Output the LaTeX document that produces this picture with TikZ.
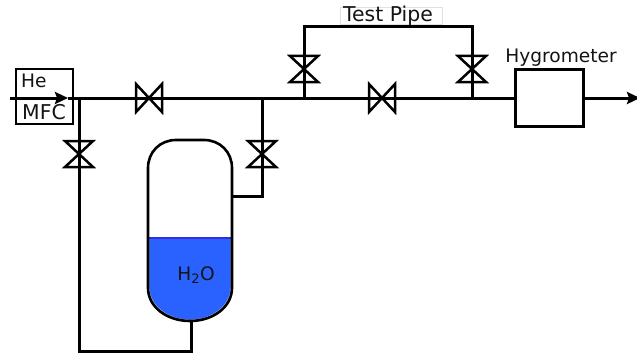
\documentclass[tikz,border=0pt]{standalone}
\usepackage{fontspec}
\setmainfont{DejaVu Sans}
\usetikzlibrary{arrows.meta}
\definecolor{water}{HTML}{2A62FF}
\definecolor{waterline}{HTML}{2F2FE0}
\tikzset{
    pipe/.style={line width=3.0pt},
    flow/.style={pipe, -{Stealth[length=13pt,width=12pt,inset=2pt]}},
    label/.style={font=\fontsize{18.6}{20}\selectfont, text=black!92, inner sep=0pt},
    biglabel/.style={label, font=\fontsize{20.4}{22}\selectfont},
    hvalve/.pic={\draw[line width=2.5pt, line join=miter] (-13,-14)--(13,14)--(13,-14)--(-13,14)--cycle;},
    vvalve/.pic={\draw[line width=2.5pt, line join=miter] (-14,-13)--(14,-13)--(-14,13)--(14,13)--cycle;},
}

\begin{document}
\begin{tikzpicture}[x=1pt,y=-1pt]
    \useasboundingbox (0,0) rectangle (637,353);
    % water first, so that the vessel wall lies over it
    \fill[water, draw=black!25, line width=0.8pt] (149,238)--(231,238)--(231,287)
        .. controls (231,306) and (212,320) .. (190,320)
        .. controls (168,320) and (149,306) .. (149,287)--cycle;
    \draw[waterline, line width=1.6pt] (149,238)--(231,238);
    % vessel
    \draw[pipe, line width=2.6pt] (176,140)--(204,140)
        .. controls (220,140) and (232,152) .. (232,168)--(232,288)
        .. controls (232,307) and (213,321) .. (190,321)
        .. controls (167,321) and (148,307) .. (148,288)--(148,168)
        .. controls (148,152) and (160,140) .. (176,140)--cycle;
    \node[label] (water) at (196,275) {H\textsubscript{2}O};
    % boxes
    \node[draw, line width=2.6pt, minimum width=57pt, minimum height=55pt, inner sep=0pt] (mfc) at (44.5,96.5) {};
    \node[label, anchor=west] (he) at (21,81) {He};
    \node[biglabel, anchor=west] (mfctext) at (22,112.5) {MFC};
    \node[draw, line width=3.0pt, minimum width=68pt, minimum height=56pt, inner sep=0pt] (hygro) at (549,98) {};
    \node[label] (hygrotext) at (561,57.5) {Hygrometer};
    \node[draw=black!12, line width=0.6pt, minimum width=102pt, minimum height=17pt, inner sep=0pt] (testbox) at (391,15.5) {};
    \node[biglabel] (testtext) at (388,16) {Test Pipe};
    % points on the lines
    \coordinate (inlet) at (10,98);
    \coordinate (mfcout) at (68,98);
    \coordinate (outlet) at (640,98);
    \coordinate (teea) at (79,98);
    \coordinate (teeb) at (262,98);
    \coordinate (teec) at (304,98);
    \coordinate (teed) at (472,98);
    \coordinate (topa) at (304,27);
    \coordinate (topb) at (472,27);
    \coordinate (kneea) at (262,196);
    \coordinate (walla) at (233,196);
    \coordinate (kneeb) at (79,351);
    \coordinate (kneec) at (191,351);
    \coordinate (wallb) at (191,321);
    % lines
    \draw[flow] (inlet) -- (mfcout);
    \draw[pipe] (mfcout) -- (hygro.west);
    \draw[flow] (hygro.east) -- (outlet);
    \draw[pipe] (teea) -- (kneeb) -- (kneec) -- (wallb);
    \draw[pipe] (teeb) -- (kneea) -- (walla);
    \draw[pipe] (teec) -- (topa) -- (topb) -- (teed);
    % valves
    \pic at (149,98) {hvalve};
    \pic at (382,98) {hvalve};
    \pic at (79,154) {vvalve};
    \pic at (262,154) {vvalve};
    \pic at (304,69) {vvalve};
    \pic at (472,69) {vvalve};
\end{tikzpicture}
\end{document}
